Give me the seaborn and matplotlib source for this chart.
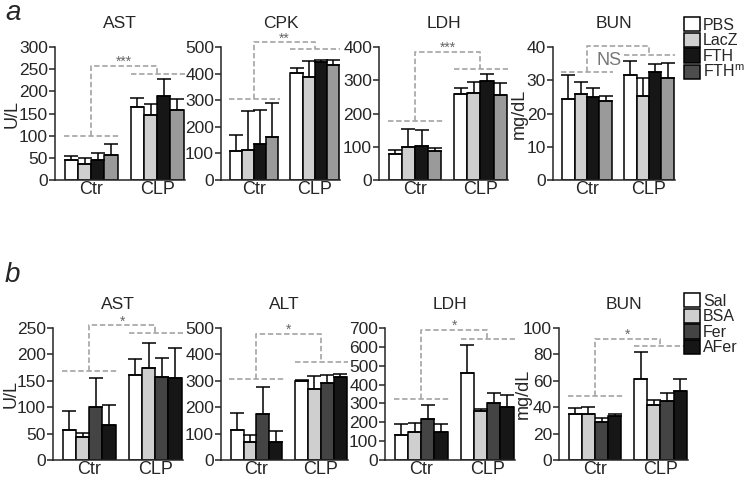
import numpy as np
import pandas as pd
import matplotlib
matplotlib.use("Agg")
import matplotlib.pyplot as plt
from matplotlib.patches import Patch
import seaborn as sns

# -------------------------------
# 1. Data
# -------------------------------
groups = ["Ctr", "CLP"]

# panel a : rows = Ctr / CLP, columns = PBS, LacZ, FTH, FTHm
treat_a = ["PBS", "LacZ", "FTH", "FTHm"]
legend_a = ["PBS", "LacZ", "FTH", "FTH$^{\\mathregular{m}}$"]
colors_a = ["#ffffff", "#cfcfcf", "#161616", "#9a9a9a"]
legend_colors_a = ["#ffffff", "#cfcfcf", "#161616", "#4d4d4d"]

ast_a_mean = [[45, 36, 45, 57], [164, 146, 190, 157]]
ast_a_err = [[10, 13, 17, 25], [20, 25, 37, 25]]
cpk_a_mean = [[110, 113, 136, 162], [402, 387, 442, 432]]
cpk_a_err = [[59, 148, 128, 129], [19, 61, 11, 20]]
ldh_a_mean = [[77, 100, 102, 86], [258, 261, 298, 255]]
ldh_a_err = [[14, 53, 49, 11], [20, 34, 22, 38]]
bun_a_mean = [[24.3, 25.8, 25.0, 23.7], [31.7, 25.2, 32.6, 30.7]]
bun_a_err = [[7.2, 3.6, 2.6, 1.5], [4.0, 5.5, 2.2, 4.6]]

# panel b : columns = Sal, BSA, Fer, AFer
treat_b = ["Sal", "BSA", "Fer", "AFer"]
colors_b = ["#ffffff", "#cfcfcf", "#444444", "#161616"]

ast_b_mean = [[57, 43, 101, 66], [161, 175, 158, 155]]
ast_b_err = [[36, 9, 54, 39], [30, 47, 36, 57]]
alt_b_mean = [[114, 69, 173, 67], [300, 268, 290, 314]]
alt_b_err = [[65, 25, 104, 41], [3, 49, 32, 12]]
ldh_b_mean = [[134, 147, 220, 151], [462, 261, 300, 282]]
ldh_b_err = [[55, 49, 71, 38], [150, 11, 56, 65]]
bun_b_mean = [[34.7, 34.7, 28.6, 33.4], [61.5, 41.8, 44.8, 52.4]]
bun_b_err = [[5.0, 5.5, 3.5, 1.8], [20.0, 4.0, 6.0, 9.0]]

# significance brackets: (Ctr line, CLP line, top, label)
br_ast_a = (99, 240, 257, "***")
br_cpk_a = (304, 493, 517, "**")
br_ldh_a = (176, 334, 386, "***")
br_bun_a = (32.6, 37.6, 40.2, "NS")
br_ast_b = (169, 241, 255, "*")
br_alt_b = (306, 370, 479, "*")
br_ldh_b = (322, 643, 688, "*")
br_bun_b = (48.6, 86.6, 91.9, "*")

# -------------------------------
# 2. Style
# -------------------------------
sns.set_style("ticks")
plt.rcParams["font.family"] = ["Liberation Sans", "DejaVu Sans"]
plt.rcParams["mathtext.fontset"] = "custom"
plt.rcParams["mathtext.rm"] = "Liberation Sans"

W, H = 747, 484
fig = plt.figure(figsize=(W / 100, H / 100), dpi=100)


def add_ax(left, top, width, bottom):
    return fig.add_axes([left / W, 1 - bottom / H, width / W, (bottom - top) / H])


def draw_panel(ax, treats, colors, mean, err, title, ymax, ystep, ylabel, br, label_x=-0.29):
    df = pd.DataFrame({
        "group": np.repeat(groups, len(treats)),
        "treat": treats * len(groups),
        "val": np.ravel(mean),
    })
    sns.barplot(data=df, x="group", y="val", hue="treat", order=groups,
                hue_order=treats, palette=colors, edgecolor="black",
                linewidth=1.1, errorbar=None, width=0.8, ax=ax, legend=False)
    err = np.asarray(err)
    bar_sets = list(ax.containers)
    for i, cont in enumerate(bar_sets):
        for j, bar in enumerate(cont):
            xc = bar.get_x() + bar.get_width() / 2
            ax.errorbar(xc, bar.get_height(), yerr=[[0], [err[j][i]]],
                        fmt="none", ecolor="black", elinewidth=1.1,
                        capsize=5, capthick=1.1, zorder=1)

    ax.set_xlim(-0.55, 1.42)
    ax.set_ylim(0, ymax)
    ax.set_yticks(np.arange(0, ymax + ystep / 2, ystep))
    ax.set_xlabel("")
    ax.set_ylabel(ylabel, fontsize=13)
    ax.yaxis.set_label_coords(label_x, 0.5)
    ax.set_title(title, fontsize=12.5, pad=14)
    ax.tick_params(axis="y", length=4, width=1.1, pad=1, labelsize=12.5)
    ax.tick_params(axis="x", length=0, pad=1, labelsize=13)
    sns.despine(ax=ax)
    for s in ["left", "bottom"]:
        ax.spines[s].set_linewidth(1.1)

    # dashed significance bracket
    c, p, t, lab = br
    kw = dict(color="#aaaaaa", lw=1.3, ls=(0, (3, 1.5)), clip_on=False, zorder=5)
    ax.plot([-0.42, 0.42], [c, c], **kw)
    ax.plot([0.6, 1.42], [p, p], **kw)
    ax.plot([0, 0, 1, 1], [c, t, t, p], **kw)
    if lab == "NS":
        ax.text(0.36, 36, lab, ha="center", va="center",
                fontsize=13, color="#777777")
    else:
        ax.annotate(lab, (0.5, t), xytext=(0, 0), textcoords="offset points",
                    ha="center", va="baseline", fontsize=10, color="#666666",
                    annotation_clip=False)


# -------------------------------
# 3. Panel a
# -------------------------------
ax = add_ax(55, 47, 130, 180)
draw_panel(ax, treat_a, colors_a, ast_a_mean, ast_a_err, "AST", 300, 50, "U/L", br_ast_a, -0.265)
ax = add_ax(221, 47, 119, 180)
draw_panel(ax, treat_a, colors_a, cpk_a_mean, cpk_a_err, "CPK", 500, 100, "", br_cpk_a)
ax = add_ax(379, 47, 129, 180)
draw_panel(ax, treat_a, colors_a, ldh_a_mean, ldh_a_err, "LDH", 400, 100, "", br_ldh_a)
ax = add_ax(553, 47, 122, 180)
draw_panel(ax, treat_a, colors_a, bun_a_mean, bun_a_err, "BUN", 40, 10, "mg/dL", br_bun_a, -0.205)

# -------------------------------
# 4. Panel b
# -------------------------------
ax = add_ax(53, 328, 130, 460)
draw_panel(ax, treat_b, colors_b, ast_b_mean, ast_b_err, "AST", 250, 50, "U/L", br_ast_b, -0.255)
ax = add_ax(221, 328, 127, 460)
draw_panel(ax, treat_b, colors_b, alt_b_mean, alt_b_err, "ALT", 500, 100, "", br_alt_b)
ax = add_ax(385, 328, 130, 460)
draw_panel(ax, treat_b, colors_b, ldh_b_mean, ldh_b_err, "LDH", 700, 100, "", br_ldh_b)
ax = add_ax(559, 328, 129, 460)
draw_panel(ax, treat_b, colors_b, bun_b_mean, bun_b_err, "BUN", 100, 20, "mg/dL", br_bun_b, -0.21)

# -------------------------------
# 5. Legends and panel letters
# -------------------------------
leg_kw = dict(frameon=False, fontsize=11.5, handlelength=1.0, handleheight=1.0,
              handletextpad=0.2, labelspacing=0.0, borderpad=0, borderaxespad=0,
              loc="upper left")
handles_a = [Patch(facecolor=c, edgecolor="black", linewidth=1.1) for c in legend_colors_a]
fig.legend(handles_a, legend_a, bbox_to_anchor=(684 / W, 1 - 17 / H), **leg_kw)
handles_b = [Patch(facecolor=c, edgecolor="black", linewidth=1.1) for c in colors_b]
fig.legend(handles_b, treat_b, bbox_to_anchor=(684 / W, 1 - 293 / H), **leg_kw)

fig.text(5 / W, 1 - 20 / H, "a", fontsize=20, style="italic", va="baseline")
fig.text(5 / W, 1 - 282 / H, "b", fontsize=20, style="italic", va="baseline")

fig.savefig("out.png", dpi=100)
